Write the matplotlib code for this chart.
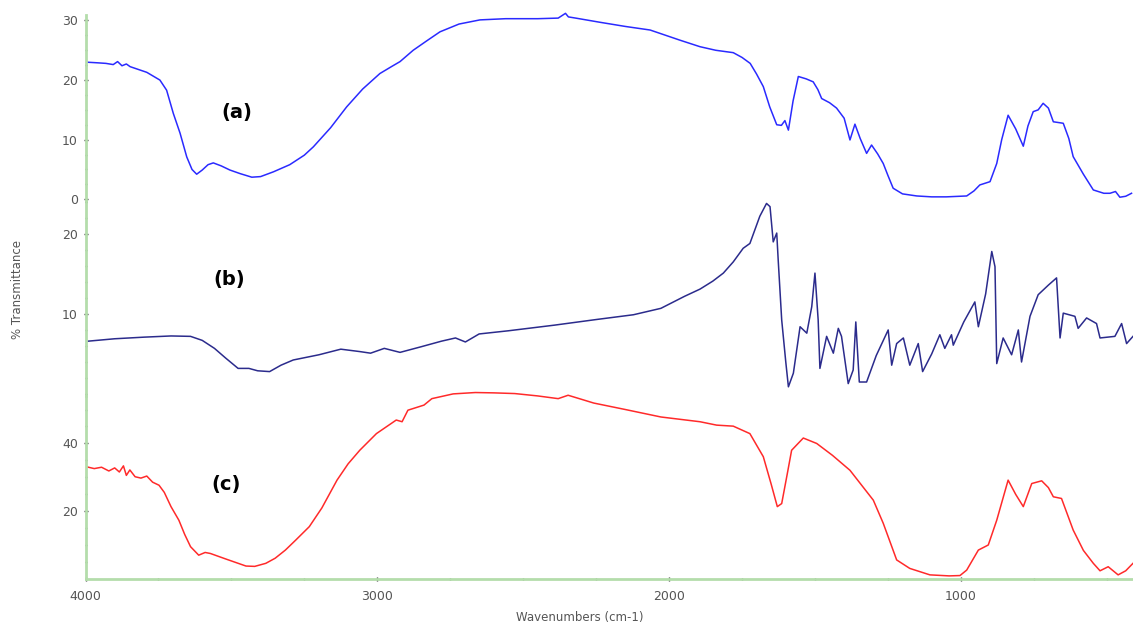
import matplotlib.pyplot as plt
from matplotlib.ticker import MultipleLocator

# wavenumbers (cm-1) and % transmittance
wn_a = [3995, 3960, 3930, 3905, 3890, 3875, 3860, 3847, 3820, 3790, 3745, 3722,
        3699, 3676, 3653, 3635, 3619, 3600, 3580, 3562, 3535, 3505, 3470, 3430,
        3400, 3356, 3300, 3250, 3219, 3160, 3105, 3050, 2991, 2950, 2922, 2877,
        2830, 2785, 2720, 2648, 2560, 2450, 2380, 2355, 2345, 2320, 2237, 2150,
        2065, 1963, 1894, 1840, 1780, 1750, 1722, 1700, 1677, 1655, 1631, 1615,
        1603, 1591, 1575, 1557, 1530, 1506, 1490, 1477, 1450, 1426, 1400, 1380,
        1363, 1345, 1323, 1306, 1285, 1266, 1250, 1232, 1200, 1151, 1100, 1050,
        980, 955, 935, 900, 877, 860, 838, 812, 786, 770, 752, 735, 718, 700,
        683, 649, 630, 615, 580, 546, 510, 489, 470, 455, 435, 415]
T_a = [23.0, 22.9, 22.8, 22.6, 23.1, 22.4, 22.7, 22.25, 21.8, 21.3, 20.0, 18.3,
       14.4, 11.1, 7.1, 5.0, 4.2, 4.9, 5.8, 6.1, 5.6, 4.9, 4.3, 3.7,
       3.8, 4.6, 5.8, 7.4, 8.8, 12.0, 15.5, 18.5, 21.1, 22.3, 23.1, 25.0,
       26.6, 28.1, 29.4, 30.1, 30.3, 30.3, 30.4, 31.2, 30.6, 30.4, 29.7, 29.0,
       28.4, 26.7, 25.6, 25.0, 24.6, 23.8, 22.8, 21.0, 18.9, 15.5, 12.5, 12.4,
       13.2, 11.6, 16.5, 20.6, 20.2, 19.7, 18.4, 16.9, 16.2, 15.3, 13.6, 9.95,
       12.6, 10.2, 7.7, 9.1, 7.6, 6.0, 4.0, 1.85, 0.9, 0.55, 0.4, 0.4,
       0.55, 1.4, 2.4, 2.95, 6.0, 10.0, 14.1, 11.8, 8.9, 12.3, 14.7, 15.0, 16.1, 15.3,
       13.0, 12.75, 10.2, 7.15, 4.2, 1.56, 1.0, 1.0, 1.3, 0.34, 0.5, 1.0]

wn_b = [3991, 3900, 3800, 3707, 3640, 3600, 3558, 3520, 3477, 3440, 3410, 3369,
        3330, 3288, 3200, 3125, 3060, 3023, 2976, 2922, 2850, 2780, 2732, 2698,
        2651, 2550, 2393, 2250, 2122, 2028, 1947, 1894, 1850, 1814, 1780, 1746,
        1723, 1689, 1666, 1654, 1643, 1631, 1626, 1614, 1600, 1591, 1574, 1551,
        1528, 1511, 1500, 1489, 1483, 1460, 1437, 1420, 1409, 1386, 1369, 1360,
        1348, 1323, 1290, 1249, 1237, 1220, 1197, 1175, 1146, 1131, 1100, 1072,
        1055, 1032, 1026, 990, 952, 940, 915, 894, 883, 877, 855, 826, 803, 792,
        763, 735, 700, 672, 660, 649, 609, 598, 569, 535, 523, 472, 449, 432, 410]
T_b = [6.6, 6.9, 7.1, 7.25, 7.2, 6.7, 5.7, 4.5, 3.2, 3.2, 2.9, 2.8,
       3.6, 4.25, 4.9, 5.6, 5.3, 5.1, 5.7, 5.2, 5.9, 6.6, 7.0, 6.5,
       7.5, 7.9, 8.6, 9.3, 9.9, 10.7, 12.2, 13.1, 14.1, 15.1, 16.5, 18.2,
       18.8, 22.2, 23.8, 23.4, 19.0, 20.1, 16.75, 9.25, 4.0, 0.9, 2.6, 8.4,
       7.6, 10.9, 15.1, 9.25, 3.2, 7.2, 5.1, 8.2, 7.2, 1.3, 3.0, 9.0,
       1.5, 1.5, 4.8, 8.0, 3.6, 6.3, 7.0, 3.6, 6.3, 2.8, 5.0, 7.4,
       5.7, 7.4, 6.1, 9.0, 11.5, 8.4, 12.5, 17.8, 15.9, 3.8, 7.0, 4.9, 8.0, 4.0,
       9.7, 12.4, 13.6, 14.5, 7.0, 10.1, 9.7, 8.2, 9.5, 8.8, 7.0, 7.2, 8.8, 6.3, 7.2]

wn_c = [3995, 3970, 3945, 3920, 3900, 3884, 3870, 3860, 3848, 3830, 3810, 3790,
        3770, 3748, 3730, 3707, 3680, 3660, 3640, 3612, 3590, 3572, 3520, 3450,
        3420, 3382, 3350, 3315, 3280, 3233, 3190, 3138, 3100, 3060, 3003, 2935,
        2915, 2895, 2840, 2813, 2740, 2664, 2600, 2529, 2450, 2380, 2346, 2300,
        2258, 2150, 2028, 1894, 1837, 1780, 1723, 1677, 1650, 1629, 1614, 1595,
        1580, 1540, 1494, 1440, 1380, 1300, 1266, 1220, 1175, 1106, 1040, 1003,
        980, 940, 906, 877, 838, 812, 786, 757, 723, 700, 683, 655, 615, 580,
        546, 523, 495, 461, 435, 410]
T_c = [33.1, 32.6, 33.0, 31.9, 32.8, 31.6, 33.4, 30.6, 32.2, 30.2, 29.8, 30.4,
       28.6, 27.7, 25.6, 21.4, 17.4, 13.2, 9.6, 7.1, 7.9, 7.6, 6.0, 3.9,
       3.8, 4.7, 6.2, 8.6, 11.5, 15.5, 21.0, 29.2, 34.0, 38.0, 42.9, 46.9,
       46.4, 49.8, 51.3, 53.2, 54.6, 55.0, 54.9, 54.7, 54.0, 53.2, 54.2, 53.0,
       51.9, 50.0, 47.8, 46.4, 45.4, 45.1, 42.9, 36.1, 28.0, 21.4, 22.3, 31.0,
       38.0, 41.6, 40.0, 36.5, 32.1, 23.3, 16.5, 5.7, 3.2, 1.3, 1.0, 1.1,
       2.7, 8.6, 10.1, 17.4, 29.2, 25.0, 21.4, 28.2, 29.0, 27.0, 24.3, 23.8, 14.5, 8.5,
       4.7, 2.5, 3.7, 1.3, 2.5, 4.7]

labels = ['(a)', '(b)', '(c)']
label_pos = [(3481, 14.6), (3508, 14.25), (3518, 28.0)]

green = '#b4ddab'
grey = '#555555'

fig = plt.figure(figsize=(11.33, 6.3), dpi=100)
left, width = 85.5 / 1133, 1 - 85.5 / 1133
ax_a = fig.add_axes([left, 0.681, width, 0.295])
ax_b = fig.add_axes([left, 0.3714, width, 0.3095])
ax_c = fig.add_axes([left, 0.0805, width, 0.2905])

style = dict(lw=1.1, clip_on=False, solid_joinstyle='round')
ax_a.plot(wn_a, T_a, color='#2a2aff', **style)
ax_b.plot(wn_b, T_b, color='#2b2b8c', **style)
ax_c.plot(wn_c, T_c, color='#ff2a2a', **style)

ax_a.set_ylim(-0.29, 30.9)
ax_b.set_ylim(-0.25, 24.1)
ax_c.set_ylim(0, 53.9)

ax_a.set_yticks([0, 10, 20, 30])
ax_a.yaxis.set_minor_locator(MultipleLocator(2.5))
ax_b.set_yticks([10, 20])
ax_b.yaxis.set_minor_locator(MultipleLocator(2))
ax_c.set_yticks([20, 40])
ax_c.yaxis.set_minor_locator(MultipleLocator(5))

for ax, lab, (x, y) in zip([ax_a, ax_b, ax_c], labels, label_pos):
    ax.set_xlim(4000, 410)
    ax.set_facecolor('none')
    for s in ['top', 'right']:
        ax.spines[s].set_visible(False)
    ax.spines['left'].set_color(green)
    ax.spines['left'].set_linewidth(2)
    ax.tick_params(axis='y', which='both', colors='#333333', labelcolor=grey,
                   labelsize=9, direction='inout', length=3, width=1, pad=4)
    ax.tick_params(axis='y', which='minor', length=2)
    ax.text(x, y, lab, fontsize=14, fontweight='bold', ha='center', va='center')

for ax in [ax_a, ax_b]:
    ax.spines['bottom'].set_visible(False)
    ax.set_xticks([])

ax_c.spines['bottom'].set_color(green)
ax_c.spines['bottom'].set_linewidth(2)
ax_c.set_xticks([4000, 3000, 2000, 1000])
ax_c.xaxis.set_minor_locator(MultipleLocator(250))
ax_c.tick_params(axis='x', which='both', colors='#333333', labelcolor=grey,
                 labelsize=9, direction='inout', length=3, width=1, pad=6)
ax_c.tick_params(axis='x', which='minor', length=2)

fig.text(18 / 1133, 1 - 290 / 630, '% Transmittance', rotation=90,
         ha='center', va='center', fontsize=8.5, color=grey)
fig.text(580 / 1133, 1 - 617 / 630, 'Wavenumbers (cm-1)',
         ha='center', va='center', fontsize=8.5, color=grey)

fig.savefig('out.png', dpi=100)
